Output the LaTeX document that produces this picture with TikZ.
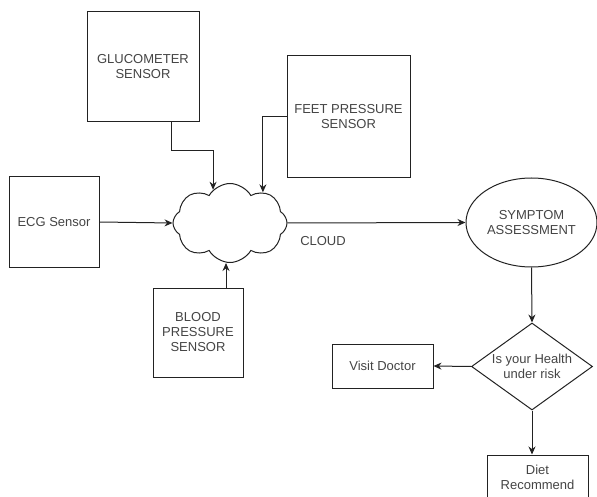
\documentclass[tikz,border=0pt]{standalone}
\usepackage{fontspec}
\setmainfont{Liberation Sans}
\usetikzlibrary{shapes.geometric,shapes.symbols,arrows.meta}
\definecolor{txt}{HTML}{444444}
\definecolor{ln}{HTML}{222222}
\begin{document}
\begin{tikzpicture}[x=1pt,y=-1pt,line width=1pt,
  every node/.style={font=\fontsize{13}{15}\selectfont,text=txt,align=center,inner sep=1pt},
  box/.style={draw=ln,rectangle},
  arr/.style={draw=ln,-{Stealth[length=8pt,width=7pt]}}]
\useasboundingbox (0,0) rectangle (597,497);
\clip (0,0) rectangle (597,497);
\node[box,minimum width=112,minimum height=110] (glu) at (143,67) {GLUCOMETER\\SENSOR};
\node[box,minimum width=123,minimum height=122] (feet) at (348.5,117) {FEET PRESSURE\\SENSOR};
\node[box,minimum width=90,minimum height=90] (ecg) at (54,222) {ECG Sensor};
\node[box,minimum width=90,minimum height=89] (blood) at (198,332.5) {BLOOD\\PRESSURE\\SENSOR};
\node[draw=ln,cloud,cloud puffs=8,cloud puff arc=120,aspect=1.45,minimum width=114,minimum height=79] (cloud) at (230,223) {};
\node (cloudlbl) at (323,241) {CLOUD};
\node[draw=ln,ellipse,minimum width=131,minimum height=89] (symp) at (531.5,222.5) {SYMPTOM\\ASSESSMENT};
\node[draw=ln,diamond,shape aspect=1.39,inner sep=0pt,minimum width=121,minimum height=87] (risk) at (532,366.5) {Is your Health\\under risk};
\node[box,minimum width=101,minimum height=44] (doctor) at (382.5,366) {Visit Doctor};
\node[box,minimum width=101,minimum height=45] (diet) at (537.5,477.5) {Diet\\Recommend};
\draw[arr] ([xshift=28]glu.south) -- ++(0,28) -| (cloud.117);
\draw[arr] (feet.west) -| (cloud.43);
\draw[arr] (ecg.east) -- (cloud.west);
\draw[arr] ([xshift=28]blood.north) -- ([xshift=28]blood.north |- cloud.south);
\draw[arr] (cloud.east) -- (symp.west);
\draw[arr] (symp.south) -- (risk.north);
\draw[arr] (risk.west) -- (doctor.east);
\draw[arr] (risk.south) -- (risk.south |- diet.north);
\end{tikzpicture}
\end{document}
